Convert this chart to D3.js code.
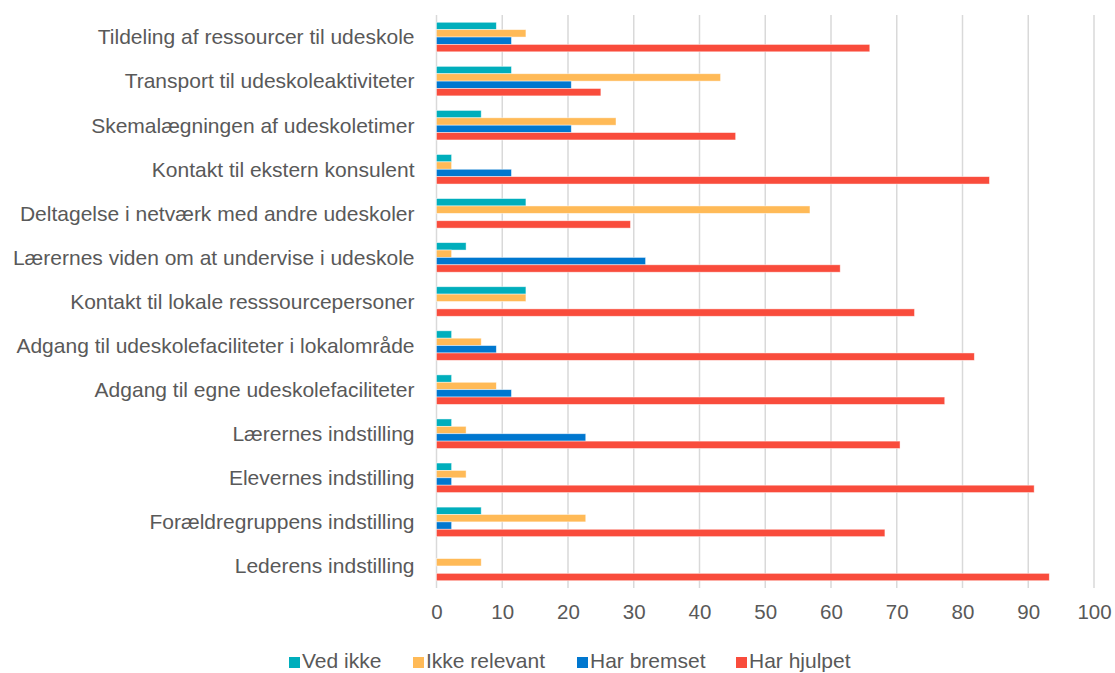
<!DOCTYPE html>
<html>
<head>
<meta charset="utf-8">
<script src="https://cdn.jsdelivr.net/npm/d3@7"></script>
<style>
  body { margin: 0; background: #fff; }
  text { font-family: "Liberation Sans", Arial, sans-serif; fill: #595959; }
</style>
</head>
<body>
<div id="chart"></div>
<script>
// Categories, top to bottom
var categories = [
    "Tildeling af ressourcer til udeskole",
    "Transport til udeskoleaktiviteter",
    "Skemalægningen af udeskoletimer",
    "Kontakt til ekstern konsulent",
    "Deltagelse i netværk med andre udeskoler",
    "Lærernes viden om at undervise i udeskole",
    "Kontakt til lokale resssourcepersoner",
    "Adgang til udeskolefaciliteter i lokalområde",
    "Adgang til egne udeskolefaciliteter",
    "Lærernes indstilling",
    "Elevernes indstilling",
    "Forældregruppens indstilling",
    "Lederens indstilling"
];

var seriesNames = ["Ved ikke", "Ikke relevant", "Har bremset", "Har hjulpet"];

// Percentages
var vedIkke      = [9.1, 11.4, 6.8, 2.3, 13.6, 4.5, 13.6, 2.3, 2.3, 2.3, 2.3, 6.8, 0];
var ikkeRelevant = [13.6, 43.2, 27.3, 2.3, 56.8, 2.3, 13.6, 6.8, 9.1, 4.5, 4.5, 22.7, 6.8];
var harBremset   = [11.4, 20.5, 20.5, 11.4, 0, 31.8, 0, 9.1, 11.4, 22.7, 2.3, 2.3, 0];
var harHjulpet   = [65.9, 25.0, 45.5, 84.1, 29.5, 61.4, 72.7, 81.8, 77.3, 70.5, 90.9, 68.2, 93.2];

var xTicks = [0, 10, 20, 30, 40, 50, 60, 70, 80, 90, 100];
var colors = ["#00AEBC", "#FFBA57", "#0077CF", "#F94C3C"];

var margin = { top: 15, right: 21, bottom: 85, left: 436.5 },
    width = 1115 - margin.left - margin.right,
    height = 673 - margin.top - margin.bottom;

var svg = d3.select("#chart")
    .append("svg")
    .attr("width", 1115)
    .attr("height", 673)
    .append("g")
    .attr("transform", "translate(" + margin.left + "," + margin.top + ")");

var seriesData = [vedIkke, ikkeRelevant, harBremset, harHjulpet];

var x = d3.scaleLinear().domain([0, 100]).range([0, width]);
var y0 = d3.scaleBand().domain(categories).range([0, height]).paddingInner(0.33).paddingOuter(0.165);
var y1 = d3.scaleBand().domain(seriesNames).range([0, y0.bandwidth()]);

// Gridlines
svg.append("g")
    .selectAll("line")
    .data(xTicks)
    .enter()
    .append("line")
    .attr("x1", function(d) { return x(d) })
    .attr("x2", function(d) { return x(d) })
    .attr("y1", 0)
    .attr("y2", height)
    .attr("stroke", "#D9D9D9")
    .attr("stroke-width", 1.5);

// Bars
var groups = svg.selectAll("g.cat")
    .data(categories)
    .enter()
    .append("g")
    .attr("class", "cat")
    .attr("transform", function(d) { return "translate(0," + y0(d) + ")" });

groups.selectAll("rect")
    .data(function(d, i) {
        return seriesNames.map(function(s, j) { return { name: s, value: seriesData[j][i], j: j } });
    })
    .enter()
    .append("rect")
    .attr("x", 0)
    .attr("y", function(d) { return y1(d.name) })
    .attr("width", function(d) { return x(d.value) })
    .attr("height", y1.bandwidth())
    .attr("fill", function(d) { return colors[d.j] })
    .attr("stroke", "#fff")
    .attr("stroke-opacity", 0.6)
    .attr("stroke-width", 0.75);

// Category labels
svg.append("g")
    .selectAll("text")
    .data(categories)
    .enter()
    .append("text")
    .attr("x", -22)
    .attr("y", function(d) { return y0(d) + y0.bandwidth() / 2 })
    .attr("dy", "0.35em")
    .attr("text-anchor", "end")
    .style("font-size", "21px")
    .text(function(d) { return d });

// X axis tick labels
svg.append("g")
    .attr("transform", "translate(0," + height + ")")
    .call(d3.axisBottom(x).tickValues(xTicks).tickSize(0).tickPadding(16))
    .call(function(g) { g.select(".domain").remove() })
    .selectAll("text")
    .style("font-size", "20.5px")
    .style("font-family", "\"Liberation Sans\", Arial, sans-serif")
    .attr("fill", "#595959");

// Legend
var legendX = [289, 413, 577, 736];
var legend = svg.append("g")
    .attr("transform", "translate(" + (-margin.left) + "," + (-margin.top) + ")")
    .selectAll("g")
    .data(seriesNames)
    .enter()
    .append("g")
    .attr("transform", function(d, i) { return "translate(" + legendX[i] + ",657)" });

legend.append("rect")
    .attr("width", 11)
    .attr("height", 11)
    .attr("fill", function(d, i) { return colors[i] });

legend.append("text")
    .attr("x", 13)
    .attr("y", 11.3)
    .style("font-size", "21px")
    .text(function(d) { return d });
</script>
</body>
</html>
